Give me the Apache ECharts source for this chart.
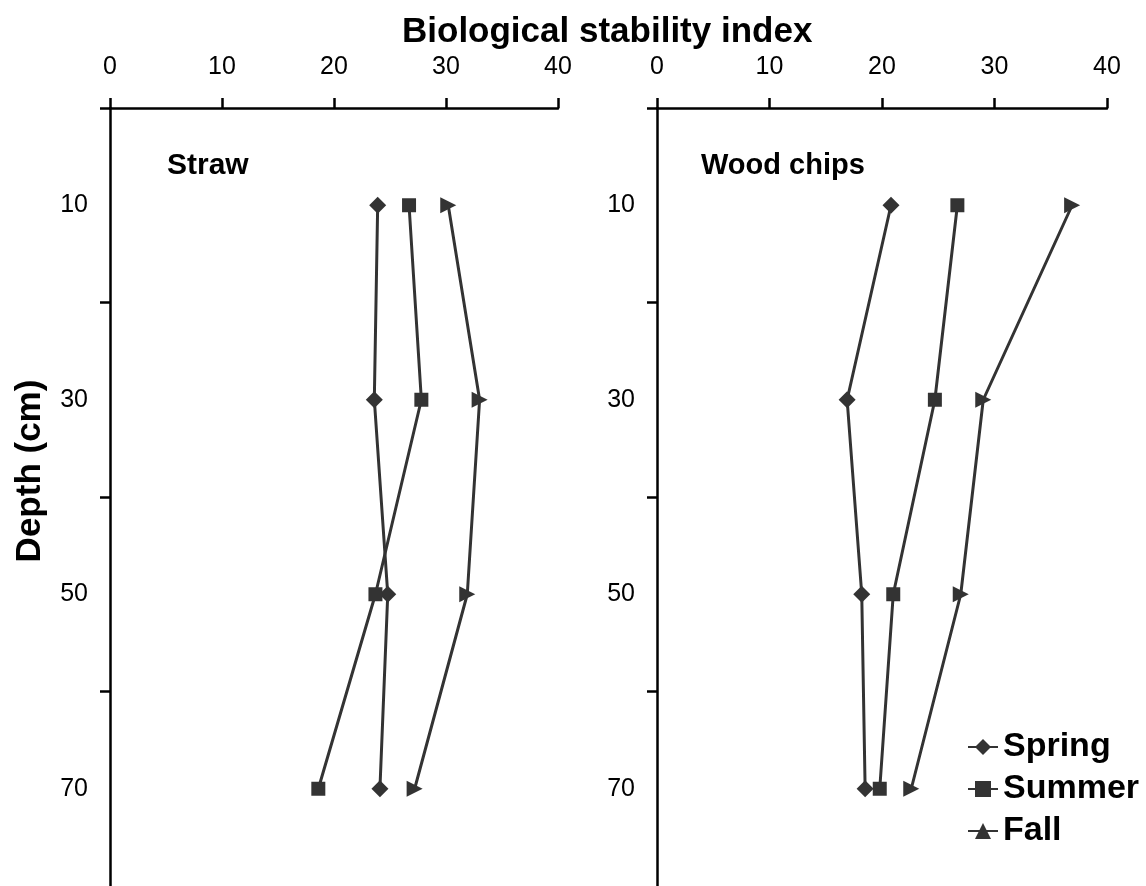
<!DOCTYPE html>
<html>
<head>
<meta charset="utf-8">
<script src="https://cdn.jsdelivr.net/npm/echarts@6/dist/echarts.min.js"></script>
<style>
  html, body { margin: 0; padding: 0; background: #fff; }
  #chart { width: 1146px; height: 886px; }
</style>
</head>
<body>
<div id="chart"></div>
<script>
// Depth of each sample (cm)
const depths = [10, 30, 50, 70];
const seasons = ['Spring', 'Summer', 'Fall'];

// Biological stability index, straw
const strawSpring = [23.9, 23.6, 24.8, 24.1];
const strawSummer = [26.7, 27.8, 23.7, 18.6];
const strawFall = [30.2, 33.0, 31.9, 27.2];

// Biological stability index, wood chips
const woodSpring = [20.8, 16.9, 18.2, 18.5];
const woodSummer = [26.7, 24.7, 21.0, 19.8];
const woodFall = [36.9, 29.0, 27.0, 22.6];

// Axis ticks and labels
const xTicks = [0, 10, 20, 30, 40];
const depthTicks = [0, 20, 40, 60];
const depthLabels = [10, 30, 50, 70];

const FONT = '"Liberation Sans", Arial, sans-serif';
const INK = '#333333';

const chart = echarts.init(document.getElementById('chart'));

function pairs(values) {
  return values.map((v, i) => [v, depths[i]]);
}

function xAxis(gridIndex) {
  return {
    type: 'value', gridIndex, position: 'top',
    min: xTicks[0], max: xTicks[xTicks.length - 1], interval: 10,
    axisLine: { show: true, lineStyle: { color: '#000', width: 2.5 } },
    axisTick: { show: true, inside: false, length: 10, lineStyle: { color: '#000', width: 2.5 } },
    axisLabel: { show: true, margin: 28, color: '#000', fontSize: 25, fontFamily: FONT },
    splitLine: { show: false }
  };
}

function yAxis(gridIndex) {
  return {
    type: 'value', gridIndex, inverse: true,
    min: 0, max: 80,
    axisLine: { show: true, onZero: false, lineStyle: { color: '#000', width: 2.5 } },
    axisTick: { show: true, inside: false, length: 10, customValues: depthTicks,
                lineStyle: { color: '#000', width: 2.5 } },
    axisLabel: { show: true, margin: 22, color: '#000', fontSize: 25, fontFamily: FONT,
                 customValues: depthLabels },
    splitLine: { show: false }
  };
}

const symbols = {
  Spring: { symbol: 'diamond', symbolSize: [17, 17], symbolRotate: 0 },
  Summer: { symbol: 'rect', symbolSize: [14, 14], symbolRotate: 0 },
  Fall: { symbol: 'triangle', symbolSize: [16, 16], symbolRotate: -90 }
};

function series(name, values, idx) {
  return Object.assign({
    name, type: 'line', xAxisIndex: idx, yAxisIndex: idx,
    data: pairs(values),
    showSymbol: true,
    lineStyle: { color: INK, width: 3 },
    itemStyle: { color: INK },
    emphasis: { disabled: true },
    animation: false,
    z: 3
  }, symbols[name]);
}

chart.setOption({
  backgroundColor: '#fff',
  animation: false,
  title: [
    { text: 'Biological stability index', left: 397, top: 10,
      textStyle: { fontSize: 35, fontWeight: 'bold', color: '#000', fontFamily: FONT } },
    { text: 'Straw', left: 162, top: 146,
      textStyle: { fontSize: 30, fontWeight: 'bold', color: '#000', fontFamily: FONT } },
    { text: 'Wood chips', left: 696, top: 146,
      textStyle: { fontSize: 29, fontWeight: 'bold', color: '#000', fontFamily: FONT } }
  ],
  grid: [
    { left: 110, top: 108, width: 448, height: 781 },
    { left: 657, top: 108, width: 450, height: 781 }
  ],
  xAxis: [xAxis(0), xAxis(1)],
  yAxis: [yAxis(0), yAxis(1)],
  legend: {
    orient: 'vertical', left: 962, top: 725,
    itemWidth: 30, itemHeight: 20, itemGap: 8,
    symbolRotate: 0,
    data: seasons,
    textStyle: { fontSize: 34, fontWeight: 'bold', color: '#000', fontFamily: FONT }
  },
  graphic: [
    { type: 'text', x: 30, y: 471, rotation: Math.PI / 2,
      style: { text: 'Depth (cm)', font: 'bold 35px ' + FONT, fill: '#000',
               align: 'center', verticalAlign: 'middle' } }
  ],
  series: [
    series('Spring', strawSpring, 0),
    series('Summer', strawSummer, 0),
    series('Fall', strawFall, 0),
    series('Spring', woodSpring, 1),
    series('Summer', woodSummer, 1),
    series('Fall', woodFall, 1)
  ]
});
</script>
</body>
</html>
